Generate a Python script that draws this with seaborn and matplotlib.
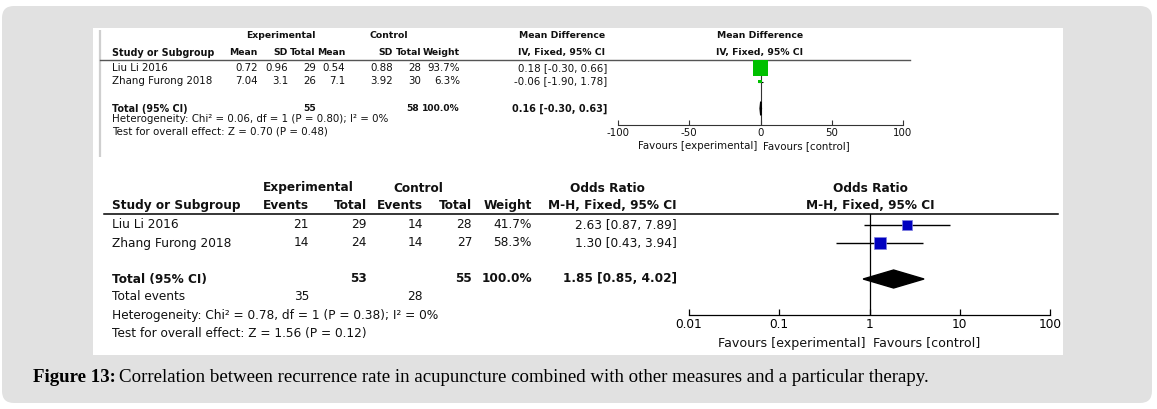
import numpy as np
import pandas as pd
import matplotlib
matplotlib.use("Agg")
import matplotlib.pyplot as plt
from matplotlib.patches import FancyBboxPatch, Rectangle
from matplotlib.ticker import FixedLocator, FixedFormatter, NullLocator
import seaborn as sns

# ---------------- data ----------------
studies = ["Liu Li 2016", "Zhang Furong 2018"]

# Top: continuous outcome (Mean Difference, IV, Fixed)
md_exp_mean = [0.72, 7.04]
md_exp_sd = [0.96, 3.1]
md_exp_total = [29, 26]
md_ctrl_mean = [0.54, 7.1]
md_ctrl_sd = [0.88, 3.92]
md_ctrl_total = [28, 30]
md_weight = [93.7, 6.3]
md_est = [0.18, -0.06]
md_lo = [-0.30, -1.90]
md_hi = [0.66, 1.78]
md_pooled = [0.16, -0.30, 0.63]
md_het = [0.06, 1, 0.80, 0]       # Chi2, df, P, I2
md_test = [0.70, 0.48]            # Z, P
md_ticks = [-100, -50, 0, 50, 100]
md_tick_labels = ["-100", "-50", "0", "50", "100"]

# Bottom: dichotomous outcome (Odds Ratio, M-H, Fixed)
or_exp_events = [21, 14]
or_exp_total = [29, 24]
or_ctrl_events = [14, 14]
or_ctrl_total = [28, 27]
or_weight = [41.7, 58.3]
or_est = [2.63, 1.30]
or_lo = [0.87, 0.43]
or_hi = [7.89, 3.94]
or_pooled = [1.85, 0.85, 4.02]
or_het = [0.78, 1, 0.38, 0]
or_test = [1.56, 0.12]
or_ticks = [0.01, 0.1, 1, 10, 100]
or_tick_labels = ["0.01", "0.1", "1", "10", "100"]

caption_bold = "Figure 13:"
caption_text = ("Correlation between recurrence rate in acupuncture combined with "
                "other measures and a particular therapy.")

# ---------------- layout ----------------
W, H, DPI = 1157, 409, 100
plt.rcParams["axes.unicode_minus"] = False
plt.rcParams["font.family"] = ["DejaVu Sans"]

fig = plt.figure(figsize=(W / DPI, H / DPI), dpi=DPI, facecolor="white")
bg = fig.add_axes([0, 0, 1, 1])
bg.set_xlim(0, W)
bg.set_ylim(H, 0)
bg.axis("off")

bg.add_patch(FancyBboxPatch((2, 6), 1150, 397, boxstyle="round,pad=0,rounding_size=12",
                            fc="#e1e1e1", ec="none"))
bg.add_patch(Rectangle((93, 28), 970, 327, fc="white", ec="none"))
bg.plot([100, 100], [30, 157], color="#cfcfcf", lw=1.6, solid_capstyle="butt")

TXT = "#111111"
FT_R = 7.4     # top regular
FT_B = 6.7     # top bold headers
FT_N = 6.6     # top bold totals
FT_L = 6.9     # top bold row labels
FS_B = 8.7     # bottom


def T(x, y, s, size, ha="left", bold=False, color=TXT):
    return bg.text(x, y, s, fontsize=size, ha=ha, va="center",
                   fontweight="bold" if bold else "normal", color=color)


def fmt_ci(e, lo, hi):
    return f"{e:.2f} [{lo:.2f}, {hi:.2f}]"


# ---------- top table ----------
ty = lambda r: 68 + r * 13.5
T(281, 36, "Experimental", FT_B, "center", True)
T(389, 36, "Control", FT_B, "center", True)
T(562, 36, "Mean Difference", FT_B, "center", True)
T(760, 36, "Mean Difference", FT_B, "center", True)
hdr_y = 52.5
T(112, hdr_y, "Study or Subgroup", FT_L, "left", True)
top_cols = [258, 288, 316, 345, 393, 421, 460]
for x, lab in zip(top_cols, ["Mean", "SD", "Total", "Mean", "SD", "Total", "Weight"]):
    T(x, hdr_y, lab, FT_B, "right", True)
T(562, hdr_y, "IV, Fixed, 95% CI", FT_B, "center", True)
T(760, hdr_y, "IV, Fixed, 95% CI", FT_B, "center", True)
bg.plot([100, 910], [59.5, 59.5], color="#555555", lw=1.0)

for i, s in enumerate(studies):
    y = ty(i)
    T(112, y, s, FT_R)
    vals = [str(md_exp_mean[i]), str(md_exp_sd[i]), str(md_exp_total[i]),
            str(md_ctrl_mean[i]), str(md_ctrl_sd[i]), str(md_ctrl_total[i]),
            f"{md_weight[i]:.1f}%"]
    for x, v in zip(top_cols, vals):
        T(x, y, v, FT_R, "right")
    T(607, y, fmt_ci(md_est[i], md_lo[i], md_hi[i]), FT_R, "right")
y = ty(3)
T(112, y, "Total (95% CI)", FT_L, "left", True)
T(316, y, str(sum(md_exp_total)), FT_N, "right", True)
T(419, y, str(sum(md_ctrl_total)), FT_N, "right", True)
T(460, y, f"{sum(md_weight):.1f}%", FT_N, "right", True)
T(607, y, fmt_ci(*md_pooled), FT_L, "right", True)
T(112, 119, f"Heterogeneity: Chi² = {md_het[0]:.2f}, df = {md_het[1]} (P = {md_het[2]:.2f}); I² = {md_het[3]}%", FT_R)
T(112, 131, f"Test for overall effect: Z = {md_test[0]:.2f} (P = {md_test[1]:.2f})", FT_R)
T(757, 146, "Favours [experimental]", FT_R, "right")
T(763, 146, "Favours [control]", FT_R, "left")

# ---------- bottom table ----------
by = lambda r: 225 + r * 18
T(308, 188, "Experimental", FS_B, "center", True)
T(418, 188, "Control", FS_B, "center", True)
T(607, 188, "Odds Ratio", FS_B, "center", True)
T(870, 188, "Odds Ratio", FS_B, "center", True)
bh = 205.5
T(112, bh, "Study or Subgroup", FS_B, "left", True)
bot_cols = [309, 367, 423, 472, 532]
for x, lab in zip(bot_cols, ["Events", "Total", "Events", "Total", "Weight"]):
    T(x, bh, lab, FS_B, "right", True)
T(677, bh, "M-H, Fixed, 95% CI", FS_B, "right", True)
T(870, bh, "M-H, Fixed, 95% CI", FS_B, "center", True)
bg.plot([104, 1058], [214, 214], color="black", lw=1.1)

for i, s in enumerate(studies):
    y = by(i)
    T(112, y, s, FS_B)
    vals = [or_exp_events[i], or_exp_total[i], or_ctrl_events[i], or_ctrl_total[i]]
    for x, v in zip(bot_cols[:4], vals):
        T(x, y, str(v), FS_B, "right")
    T(532, y, f"{or_weight[i]:.1f}%", FS_B, "right")
    T(677, y, fmt_ci(or_est[i], or_lo[i], or_hi[i]), FS_B, "right")
y = by(3)
T(112, y, "Total (95% CI)", FS_B, "left", True)
T(367, y, str(sum(or_exp_total)), FS_B, "right", True)
T(472, y, str(sum(or_ctrl_total)), FS_B, "right", True)
T(532, y, f"{sum(or_weight):.1f}%", FS_B, "right", True)
T(677, y, fmt_ci(*or_pooled), FS_B, "right", True)
T(112, by(4), "Total events", FS_B)
T(309, by(4), str(sum(or_exp_events)), FS_B, "right")
T(423, by(4), str(sum(or_ctrl_events)), FS_B, "right")
T(112, by(5), f"Heterogeneity: Chi² = {or_het[0]:.2f}, df = {or_het[1]} (P = {or_het[2]:.2f}); I² = {or_het[3]}%", FS_B)
T(112, by(6), f"Test for overall effect: Z = {or_test[0]:.2f} (P = {or_test[1]:.2f})", FS_B)
T(866, 343, "Favours [experimental]", 9.1, "right")
T(873, 343, "Favours [control]", 9.1, "left")


# ---------- forest plots ----------
def px_axes(x0, x1, y0, y1):
    a = fig.add_axes([x0 / W, 1 - y1 / H, (x1 - x0) / W, (y1 - y0) / H])
    a.set_facecolor("none")
    for sp in ["top", "left", "right"]:
        a.spines[sp].set_visible(False)
    a.set_yticks([])
    return a


def side_pts(w):
    return (1.55 * np.sqrt(w)) * 72.0 / DPI


# top
axt = px_axes(618, 903, 59.5, 125)
axt.set_xlim(-100, 100)
axt.set_ylim((125 - 68) / 13.5, (59.5 - 68) / 13.5)
axt.axvline(0, color="#333333", lw=0.8, zorder=1)
df_t = pd.DataFrame({"est": md_est, "lo": md_lo, "hi": md_hi, "row": [0, 1], "w": md_weight})
axt.hlines(df_t["row"], df_t["lo"], df_t["hi"], color="black", lw=0.8, zorder=2)
sns.scatterplot(data=df_t, x="est", y="row", marker="s", color="#00c000",
                s=[side_pts(w) ** 2 for w in md_weight], linewidth=0, ax=axt,
                legend=False, zorder=3)
e, lo, hi = md_pooled
axt.fill([lo, e, hi, e], [3, 2.5, 3, 3.5], color="black", zorder=3)
axt.xaxis.set_major_locator(FixedLocator(md_ticks))
axt.xaxis.set_major_formatter(FixedFormatter(md_tick_labels))
axt.tick_params(axis="x", direction="in", length=3.6, width=0.8, pad=2,
                labelsize=FT_R, colors="#333333", labelcolor=TXT)
axt.spines["bottom"].set_color("#333333")
axt.spines["bottom"].set_linewidth(0.8)
axt.set_xlabel("")
axt.set_ylabel("")

# bottom
axb = px_axes(689, 1050, 214, 315)
axb.set_xscale("log")
axb.set_xlim(0.01, 100)
axb.set_ylim((315 - 225) / 18, (214 - 225) / 18)
axb.axvline(1, color="black", lw=0.9, zorder=1)
df_b = pd.DataFrame({"est": or_est, "lo": or_lo, "hi": or_hi, "row": [0, 1], "w": or_weight})
axb.hlines(df_b["row"], df_b["lo"], df_b["hi"], color="black", lw=1.0, zorder=2)
sns.scatterplot(data=df_b, x="est", y="row", marker="s", color="#0000c0",
                s=[side_pts(w) ** 2 for w in or_weight], linewidth=0.5,
                edgecolor="#8080e0", ax=axb, legend=False, zorder=3)
e, lo, hi = or_pooled
axb.fill([lo, e, hi, e], [3, 2.5, 3, 3.5], color="black", zorder=3)
axb.xaxis.set_major_locator(FixedLocator(or_ticks))
axb.xaxis.set_major_formatter(FixedFormatter(or_tick_labels))
axb.xaxis.set_minor_locator(NullLocator())
axb.tick_params(axis="x", direction="in", length=4.5, width=0.9, pad=2,
                labelsize=FS_B, colors="black")
axb.spines["bottom"].set_linewidth(0.9)
axb.set_xlabel("")
axb.set_ylabel("")

# ---------- caption ----------
CAP_FS = 13.6
cap = bg.text(33, 378, caption_bold, fontsize=CAP_FS, fontweight="bold",
              family="Liberation Serif", va="center", ha="left", color="black")
fig.canvas.draw()
bb = cap.get_window_extent(renderer=fig.canvas.get_renderer())
x_end = bg.transData.inverted().transform((bb.x1, bb.y0))[0]
bg.text(x_end + 3, 378, caption_text, fontsize=CAP_FS, family="Liberation Serif",
        va="center", ha="left", color="black")

fig.savefig("out.png", dpi=DPI, facecolor="white")
